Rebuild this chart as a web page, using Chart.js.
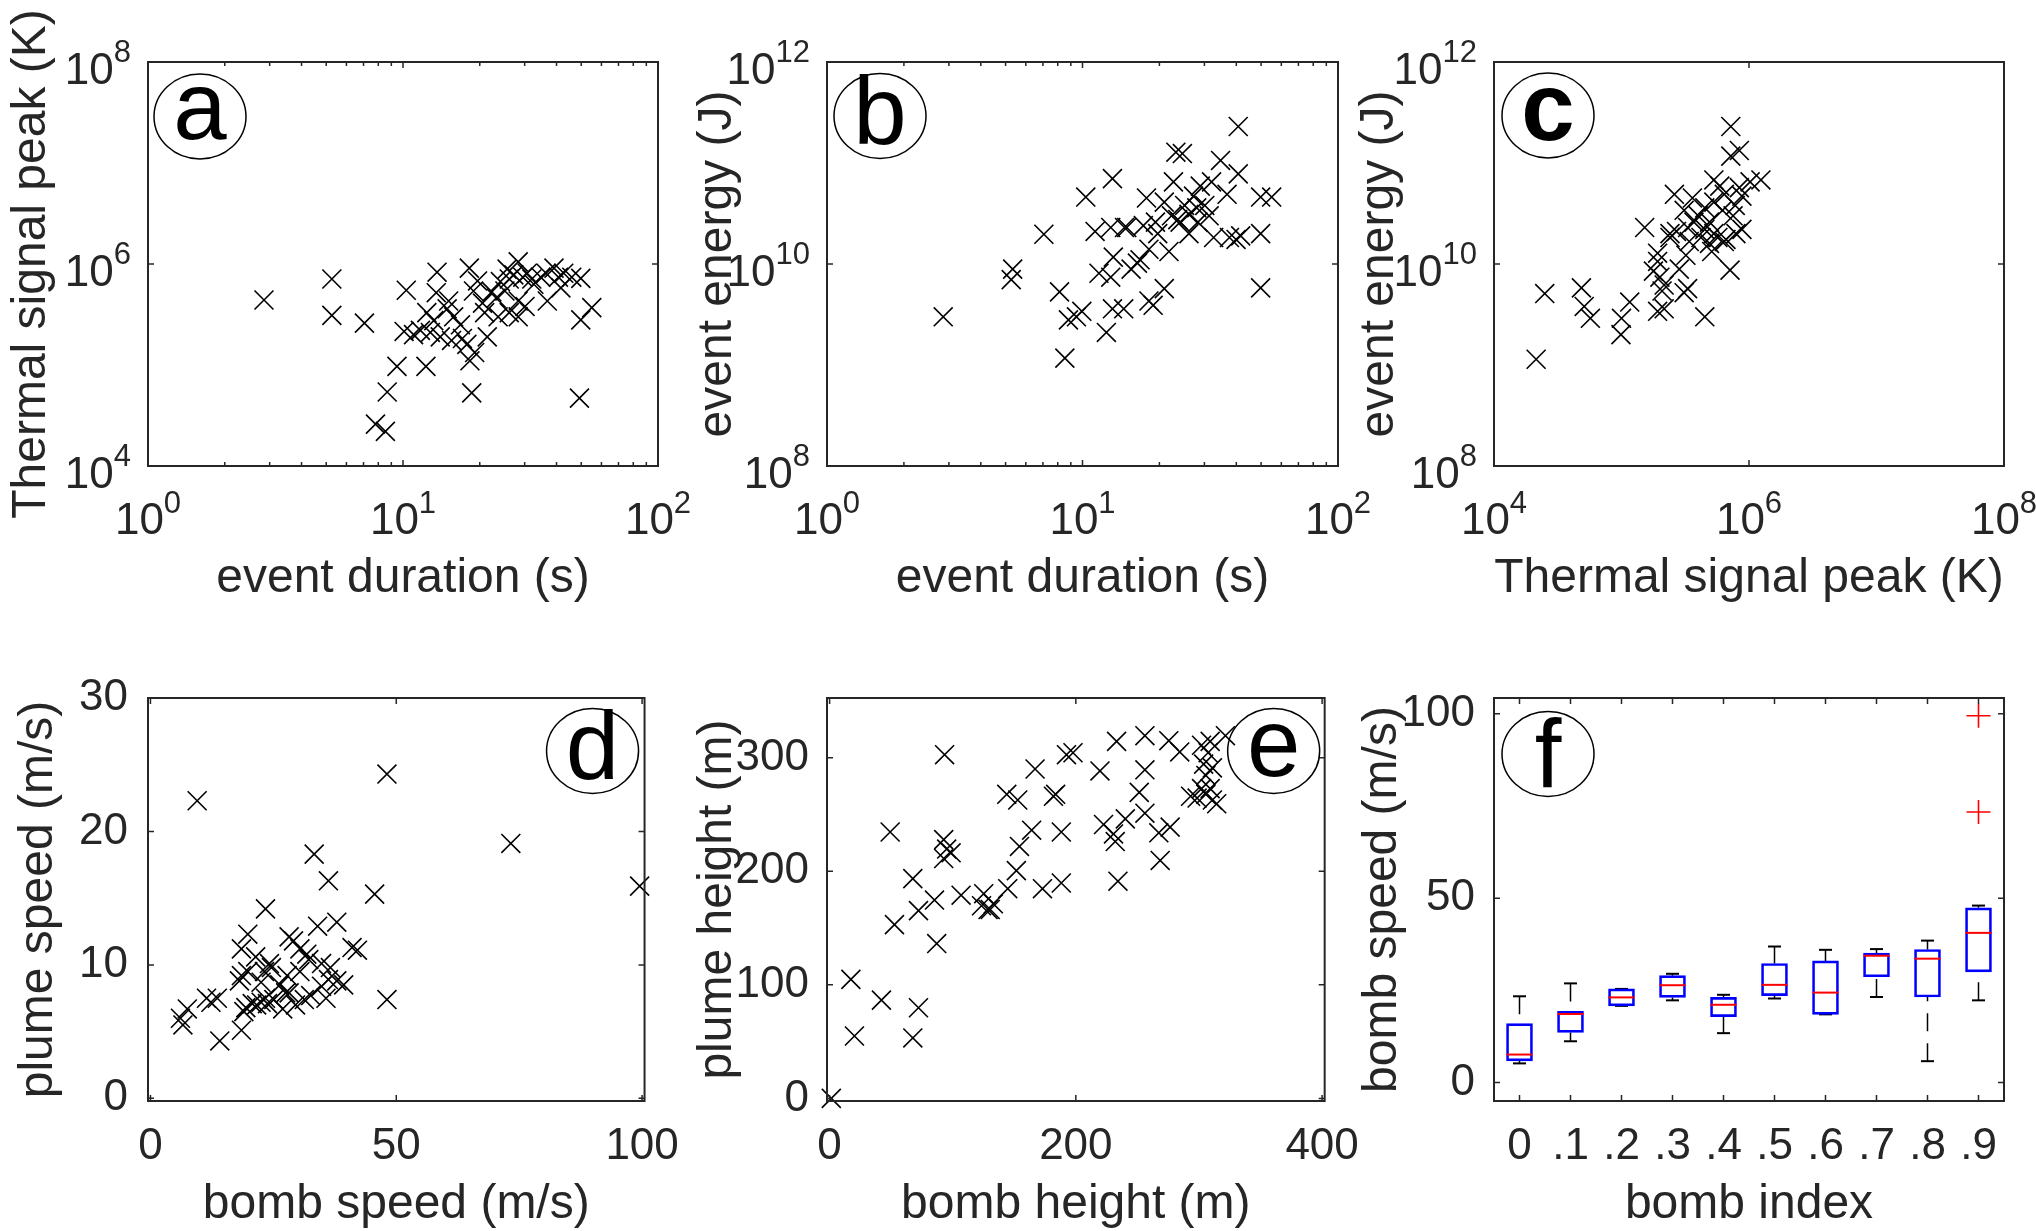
<!DOCTYPE html>
<html>
<head>
<meta charset="utf-8">
<title>Event and bomb statistics</title>
<script src="https://cdn.jsdelivr.net/npm/chart.js@4.4.1/dist/chart.umd.min.js"></script>
<style>
  html, body { margin: 0; padding: 0; background: #fff; }
  #page { position: relative; width: 2036px; height: 1231px; overflow: hidden; background: #fff; }
  .panel { position: absolute; }
</style>
</head>
<body>
<div id="page"></div>
<script>
// values

// (a) event duration (s) vs thermal signal peak (K)
const aDuration = [2.85, 5.26, 5.26, 7.06, 10.3, 10.1, 9.47, 12.3, 8.67, 7.8, 8.53, 18.6, 49.2, 18.3, 55, 49.8, 49.8, 13.6, 13.5, 12.4, 11.7, 11.0, 12.8, 14.0, 15.1, 15.8, 15.5, 17.1, 17.8, 21.4, 18.2, 18.9, 20.5, 22.3, 23.2, 24.1, 25.6, 27.2, 28.3, 30.7, 32.6, 28.3, 26.1, 28.3, 30.1, 34.7, 36.4, 39.1, 40.7, 41.6, 36.8, 42.7, 45.9, 23.6, 20.9, 25.1, 26.1, 29.5, 19.6, 16.8, 14.9, 13.2, 19.1, 32];
const aThermal = [4.4e5, 7.1e5, 3.1e5, 2.6e5, 5.5e5, 2.15e5, 9.7e4, 9.7e4, 5.4e4, 2.6e4, 2.2e4, 5.3e4, 4.7e4, 1.1e5, 3.7e5, 2.8e5, 7.2e5, 8.3e5, 5.2e5, 3.3e5, 2.2e5, 2.0e5, 2.1e5, 1.9e5, 4.3e5, 3.0e5, 1.75e5, 1.83e5, 1.6e5, 1.9e5, 9.1e5, 5.4e5, 4.1e5, 5.3e5, 4.6e5, 6.7e5, 8.9e5, 7.8e5, 1.05e6, 8.1e5, 6.3e5, 4.3e5, 3.3e5, 3.0e5, 3.8e5, 7.4e5, 8.1e5, 9.1e5, 7.4e5, 5.8e5, 4.3e5, 8.1e5, 7.4e5, 3.0e5, 3.3e5, 5.4e5, 7.1e5, 7.4e5, 6.8e5, 2.5e5, 3.6e5, 2.75e5, 1.33e5, 7.1e5];

// (b) event duration (s) vs event energy (J)
const bDuration = [2.85, 5.33, 5.26, 7.06, 10.3, 8.13, 8.53, 8.81, 9.47, 9.94, 12.4, 13.1, 13.2, 12.9, 14.5, 11.6, 11.2, 12.9, 13.1, 14.9, 15.5, 16.4, 16.8, 18.2, 18.9, 20.9, 18.2, 19.7, 21.8, 17.8, 23.2, 24.6, 22.7, 22.3, 23.6, 25.1, 26.1, 27.2, 28.3, 30.1, 31.3, 28.9, 32, 34.7, 36.8, 40.7, 40.7, 32.6, 37.6, 39.9, 41.6, 49.8, 49.8, 55, 49.8, 20.9, 19.3, 26.1, 24.1, 28.0, 14.6, 17.3];
const bEnergy = [3.0e9, 8.9e9, 7.0e9, 1.97e10, 4.6e10, 5.3e9, 1.17e9, 2.8e9, 3.0e9, 3.4e9, 2.1e9, 3.6e9, 1.17e10, 7.4e9, 3.6e9, 8.1e9, 2.1e10, 2.3e10, 7.0e10, 2.3e10, 8.9e9, 1.02e10, 1.1e10, 4.3e9, 3.9e9, 5.7e9, 1.4e10, 2.0e10, 1.33e10, 4.5e10, 1.28e11, 1.24e11, 6.5e10, 3.0e10, 2.75e10, 3.8e10, 3.1e10, 4.7e10, 2.6e10, 3.8e10, 3.0e10, 5.9e10, 6.5e10, 1.06e11, 4.9e10, 2.3e11, 7.8e10, 1.83e10, 1.83e10, 1.75e10, 1.9e10, 2.0e10, 4.6e10, 4.6e10, 5.8e9, 4.1e10, 2.6e10, 2.0e10, 2.6e10, 3.6e10, 2.3e10, 2.4e10];

// (c) thermal signal peak (K) vs event energy (J)
const cThermal = [2.14e4, 2.5e4, 4.85e4, 5.1e4, 5.7e4, 1.0e5, 9.9e4, 1.16e5, 4.5e5, 7.1e5, 7.2e5, 8.4e5, 7.2e5, 1.02e6, 1.24e6, 8.4e5, 5.3e5, 5.9e5, 6.4e5, 8.8e5, 7.8e5, 2.6e5, 3.6e5, 3.1e5, 4.0e5, 4.5e5, 5.3e5, 6.2e5, 4.9e5, 3.7e5, 3.3e5, 2.7e5, 2.4e5, 4.5e5, 5.3e5, 5.7e5, 4.9e5, 6.4e5, 8.8e5, 7.5e5, 1.52e5, 1.92e5, 1.92e5, 1.78e5, 2.0e5, 2.08e5, 1.92e5, 2.16e5, 2.84e5, 3.2e5, 3.3e5, 3.1e5, 5.1e5, 4.2e5, 2.16e5, 2.4e5, 3.4e5, 6.6e5, 7.9e5];
const cEnergy = [1.14e9, 5.1e9, 5.8e9, 3.8e9, 2.9e9, 2.9e9, 2.0e9, 4.2e9, 3.0e9, 8.7e9, 2.3e11, 1.33e11, 1.17e11, 6.5e10, 6.8e10, 5.7e10, 6.8e10, 5.9e10, 4.9e10, 4.7e10, 3.8e10, 4.9e10, 4.5e10, 3.4e10, 3.0e10, 3.6e10, 4.1e10, 3.4e10, 2.6e10, 2.6e10, 2.3e10, 2.1e10, 2.0e10, 2.2e10, 2.0e10, 1.83e10, 1.6e10, 1.67e10, 2.2e10, 3.0e10, 2.3e10, 1.28e10, 1.06e10, 8.5e9, 7.4e9, 5.4e9, 3.4e9, 3.6e9, 8.9e9, 1.22e10, 5.7e9, 5.2e9, 1.33e10, 1.83e10, 6.2e9, 1.83e10, 1.67e10, 1.75e10, 2.0e10];

// (d) bomb speed (m/s) vs plume speed (m/s)
const dBombSpeed = [9.5, 48.1, 73.3, 99.5, 33.3, 36.2, 45.6, 23.4, 48.1, 37.9, 34.0, 28.2, 29.1, 19.8, 18.5, 21.4, 41.0, 42.1, 30.4, 32.2, 34.8, 36.6, 36.2, 37.9, 39.3, 35.7, 34.8, 31.8, 24.2, 23.2, 24.6, 18.5, 19.8, 18.1, 27.8, 30.4, 26.3, 27.5, 23.4, 22.5, 23.8, 21.6, 25.1, 20.7, 19.4, 19.0, 18.5, 31.3, 29.5, 26.9, 13.6, 12.3, 11.4, 14.1, 7.5, 6.1, 6.6, 28.2, 32.6, 22.5];
const dPlumeSpeed = [22.3, 24.3, 19.1, 15.9, 18.3, 16.3, 15.3, 14.2, 7.4, 13.2, 12.9, 12.1, 11.8, 12.3, 11.2, 10.6, 11.3, 11.1, 11.2, 10.4, 10.1, 9.8, 8.9, 8.8, 8.5, 7.5, 8.4, 10.8, 10.1, 9.5, 9.8, 9.2, 9.5, 8.8, 9.2, 9.5, 8.5, 7.9, 7.5, 7.2, 7.1, 7.0, 7.4, 7.1, 6.8, 6.5, 5.1, 7.4, 7.0, 6.7, 7.5, 7.2, 7.5, 4.3, 6.7, 6.0, 5.5, 7.9, 7.7, 8.7];

// (e) bomb height (m) vs plume height (m)
const eBombHeight = [1.4, 17.3, 20.2, 42.1, 49.2, 52.7, 67.6, 67.6, 72.2, 72.2, 85.2, 87.0, 93.4, 92.7, 95.1, 92.7, 98.7, 106.8, 125.2, 123.4, 128.7, 133.0, 130.5, 143.9, 152.8, 144.7, 151.7, 154.2, 164.1, 166.9, 172.9, 181.8, 183.6, 188.2, 188.2, 192.4, 197.7, 219.6, 222.5, 230.6, 232.0, 234.2, 233.1, 240.2, 251.5, 256.1, 256.1, 256.1, 267.4, 268.5, 276.6, 275.5, 284.4, 293.2, 298.5, 302.1, 303.8, 305.6, 307.4, 309.1, 310.9, 305.6, 310.9, 314.4, 321.5, 302.1, 309.1];
const ePlumeHeight = [0, 104.8, 54.9, 86.5, 234.5, 153.0, 193.5, 53.2, 79.8, 165.3, 174.6, 136.3, 302.6, 227.8, 219.5, 211.2, 216.2, 178.9, 180.2, 169.6, 166.3, 171.3, 166.3, 267.7, 262.7, 184.6, 200.5, 221.8, 236.1, 290.0, 184.6, 266.0, 267.7, 234.5, 189.6, 302.6, 304.3, 288.3, 241.1, 232.8, 226.1, 191.2, 314.3, 246.1, 269.4, 319.3, 289.3, 251.1, 233.8, 209.5, 238.8, 314.9, 305.0, 266.0, 264.4, 310.9, 294.3, 284.3, 304.3, 314.3, 291.0, 267.7, 262.7, 259.4, 319.3, 272.7, 272.7];

// (f) bomb speed by bomb index, box plot summary
const fIndex = [0, 1, 2, 3, 4, 5, 6, 7, 8, 9];
const fLabels = ['0', '.1', '.2', '.3', '.4', '.5', '.6', '.7', '.8', '.9'];
const fLower = [5.2, 11.2, 20.8, 22.3, 13.4, 22.8, 18.5, 23.2, 5.8, 22.3];
const fQ1 = [5.9, 13.6, 20.8, 23.1, 17.9, 23.6, 18.5, 28.7, 23.2, 30.0];
const fMedian = [7.6, 18.6, 23.1, 26.4, 21.1, 26.5, 24.4, 34.4, 33.6, 40.6];
const fQ3 = [16.0, 19.3, 25.4, 29.0, 23.1, 32.3, 33.0, 35.1, 36.1, 47.4];
const fUpper = [23.4, 26.9, 25.4, 29.5, 23.8, 36.9, 36.0, 36.2, 38.5, 48.0];
const fOutIndex = [9, 9];
const fOutSpeed = [99.5, 73.4];

// tick values
const durTicks = [1, 10, 100];
const thermTicks = [1e4, 1e6, 1e8];
const energyTicks = [1e8, 1e10, 1e12];
const dXTicks = [0, 50, 100];
const dYTicks = [0, 10, 20, 30];
const eXTicks = [0, 200, 400];
const eYTicks = [0, 100, 200, 300];
const fYTicks = [0, 50, 100];

const INK = '#262626';
const FONT = '"Liberation Sans", Arial, Helvetica, sans-serif';
const LW = 145, RP = 40;
const TICK_PX = 44, SUP_PX = 31, TITLE_PX = 48;

Chart.defaults.font.family = FONT;
Chart.defaults.color = INK;

const page = document.getElementById('page');

// "10" with a raised exponent, like the MATLAB log tick labels
function drawPower(ctx, exp, x, y, axis) {
  const base = '10', sup = String(exp);
  ctx.fillStyle = INK;
  ctx.textAlign = 'left';
  ctx.textBaseline = 'alphabetic';
  ctx.font = TICK_PX + 'px ' + FONT;
  const wb = ctx.measureText(base).width;
  ctx.font = SUP_PX + 'px ' + FONT;
  const ws = ctx.measureText(sup).width;
  let x0, yb, ye;
  if (axis === 'x') {
    x0 = x - (wb + ws) / 2; yb = y + 68; ye = y + 47;
  } else {
    x0 = x - 17 - wb - ws; yb = y + 22; ye = y;
  }
  ctx.font = TICK_PX + 'px ' + FONT;
  ctx.fillText(base, x0, yb);
  ctx.font = SUP_PX + 'px ' + FONT;
  ctx.fillText(sup, x0 + wb, ye);
}

// box around the axes, inward ticks on all sides, log labels, panel letter
const framePlugin = {
  id: 'frame',
  afterDraw(chart, args, opts) {
    const ctx = chart.ctx;
    const a = chart.chartArea;
    const xs = chart.scales.x, ys = chart.scales.y;
    ctx.save();
    ctx.strokeStyle = INK;
    ctx.lineWidth = 1.5;
    ctx.beginPath();
    const tickX = (v, len) => {
      const p = xs.getPixelForValue(v);
      ctx.moveTo(p, a.bottom); ctx.lineTo(p, a.bottom - len);
      ctx.moveTo(p, a.top); ctx.lineTo(p, a.top + len);
    };
    const tickY = (v, len) => {
      const p = ys.getPixelForValue(v);
      ctx.moveTo(a.left, p); ctx.lineTo(a.left + len, p);
      ctx.moveTo(a.right, p); ctx.lineTo(a.right - len, p);
    };
    xs.ticks.forEach(t => tickX(t.value, 6));
    ys.ticks.forEach(t => tickY(t.value, 6));
    if (opts.minorX) {
      for (let d = xs.min; d < xs.max; d *= 10) {
        for (let m = 2; m < 10; m++) tickX(m * d, 4);
      }
    }
    ctx.stroke();
    ctx.lineWidth = 2;
    ctx.strokeRect(a.left, a.top, a.right - a.left, a.bottom - a.top);

    if (opts.logX) xs.ticks.forEach(t => drawPower(ctx, Math.round(Math.log10(t.value)), xs.getPixelForValue(t.value), a.bottom, 'x'));
    if (opts.logY) ys.ticks.forEach(t => drawPower(ctx, Math.round(Math.log10(t.value)), a.left, ys.getPixelForValue(t.value), 'y'));

    const cx = opts.right ? a.right - opts.dx : a.left + opts.dx;
    const cy = a.top + opts.dy;
    ctx.strokeStyle = '#000';
    ctx.lineWidth = 1.5;
    ctx.beginPath();
    ctx.ellipse(cx, cy, 46, 42.5, 0, 0, Math.PI * 2);
    ctx.stroke();
    ctx.fillStyle = '#000';
    ctx.font = (opts.bold ? 'bold ' : '') + '96px ' + FONT;
    ctx.textAlign = 'center';
    ctx.textBaseline = 'alphabetic';
    ctx.fillText(opts.letter, cx, cy + opts.base);
    ctx.restore();
  }
};

function xAxis(o) {
  const ax = {
    type: o.type, min: o.min, max: o.max, position: 'bottom', offset: false,
    afterBuildTicks: s => { s.ticks = o.ticks.map(v => ({ value: v })); },
    afterFit: s => { s.height = o.bh; },
    grid: { display: false, drawTicks: false },
    border: { display: false },
    ticks: { display: !o.log, font: { size: TICK_PX }, color: INK, padding: 19, maxRotation: 0, autoSkip: false },
    title: { display: true, text: o.title, color: INK, font: { size: TITLE_PX, lineHeight: 1.2 }, padding: { top: 0, bottom: o.tpad } }
  };
  if (o.labels) ax.ticks.callback = v => o.labels[o.ticks.indexOf(v)];
  return ax;
}

function yAxis(o) {
  return {
    type: o.type, min: o.min, max: o.max, position: 'left',
    afterBuildTicks: s => { s.ticks = o.ticks.map(v => ({ value: v })); },
    afterFit: s => { s.width = LW; },
    grid: { display: false, drawTicks: false },
    border: { display: false },
    ticks: { display: !o.log, font: { size: TICK_PX }, color: INK, padding: o.pad || 19 },
    title: { display: true, text: o.title, color: INK, font: { size: TITLE_PX, lineHeight: 1.2 }, padding: { top: o.tpad, bottom: 0 } }
  };
}

function crosses(xs, ys) {
  return {
    type: 'scatter',
    data: xs.map((x, i) => ({ x, y: ys[i] })),
    pointStyle: 'crossRot',
    pointRadius: 13.4,
    pointHoverRadius: 13.4,
    borderColor: '#000',
    backgroundColor: '#000',
    borderWidth: 1.6,
    clip: false
  };
}

function makeChart(box, cfg) {
  const w = LW + box.w + RP, h = box.tp + box.h + box.bh;
  const holder = document.createElement('div');
  holder.className = 'panel';
  holder.style.left = (box.left - LW) + 'px';
  holder.style.top = (box.top - box.tp) + 'px';
  holder.style.width = w + 'px';
  holder.style.height = h + 'px';
  const cv = document.createElement('canvas');
  cv.width = w; cv.height = h;
  cv.style.width = w + 'px'; cv.style.height = h + 'px';
  holder.appendChild(cv);
  page.appendChild(holder);
  cfg.options.responsive = false;
  cfg.options.animation = false;
  cfg.options.devicePixelRatio = 1;
  cfg.options.layout = { padding: { top: box.tp, right: RP, left: 0, bottom: 0 } };
  cfg.options.plugins.legend = { display: false };
  cfg.options.plugins.tooltip = { enabled: false };
  cfg.plugins = [framePlugin];
  return new Chart(cv, cfg);
}

// panel boxes (plot areas) in page pixels
const A = { left: 148, top: 62, w: 510, h: 404, tp: 62, bh: 150 };
const B = { left: 827, top: 62, w: 511, h: 404, tp: 62, bh: 150 };
const C = { left: 1494, top: 62, w: 510, h: 404, tp: 62, bh: 150 };
const D = { left: 148, top: 698, w: 510, h: 403, tp: 60, bh: 133 };
const E = { left: 827, top: 698, w: 511, h: 403, tp: 60, bh: 133 };
const F = { left: 1494, top: 698, w: 510, h: 403, tp: 60, bh: 133 };

makeChart(A, {
  type: 'scatter',
  data: { datasets: [crosses(aDuration, aThermal)] },
  options: {
    scales: {
      x: xAxis({ type: 'logarithmic', min: 1, max: 100, ticks: durTicks, log: true, title: 'event duration (s)', bh: A.bh, tpad: 8 }),
      y: yAxis({ type: 'logarithmic', min: 1e4, max: 1e8, ticks: thermTicks, log: true, title: 'Thermal signal peak (K)', tpad: 0 })
    },
    plugins: { frame: { letter: 'a', dx: 52, dy: 54.5, base: 22, minorX: true, logX: true, logY: true } }
  }
});

makeChart(B, {
  type: 'scatter',
  data: { datasets: [crosses(bDuration, bEnergy)] },
  options: {
    scales: {
      x: xAxis({ type: 'logarithmic', min: 1, max: 100, ticks: durTicks, log: true, title: 'event duration (s)', bh: B.bh, tpad: 8 }),
      y: yAxis({ type: 'logarithmic', min: 1e8, max: 1e12, ticks: energyTicks, log: true, title: 'event energy (J)', tpad: 7 })
    },
    plugins: { frame: { letter: 'b', dx: 53, dy: 54, base: 28, minorX: true, logX: true, logY: true } }
  }
});

makeChart(C, {
  type: 'scatter',
  data: { datasets: [crosses(cThermal, cEnergy)] },
  options: {
    scales: {
      x: xAxis({ type: 'logarithmic', min: 1e4, max: 1e8, ticks: thermTicks, log: true, title: 'Thermal signal peak (K)', bh: C.bh, tpad: 8 }),
      y: yAxis({ type: 'logarithmic', min: 1e8, max: 1e12, ticks: energyTicks, log: true, title: 'event energy (J)', tpad: 2 })
    },
    plugins: { frame: { letter: 'c', bold: true, dx: 54, dy: 53.5, base: 24, logX: true, logY: true } }
  }
});

makeChart(D, {
  type: 'scatter',
  data: { datasets: [crosses(dBombSpeed, dPlumeSpeed)] },
  options: {
    scales: {
      x: xAxis({ type: 'linear', min: -0.5, max: 100.5, ticks: dXTicks, title: 'bomb speed (m/s)', bh: D.bh, tpad: 0 }),
      y: yAxis({ type: 'linear', min: -0.2, max: 30, ticks: dYTicks, title: 'plume speed (m/s)', tpad: 7, pad: 20 })
    },
    plugins: { frame: { letter: 'd', right: true, dx: 52, dy: 53, base: 28 } }
  }
});

makeChart(E, {
  type: 'scatter',
  data: { datasets: [crosses(eBombHeight, ePlumeHeight)] },
  options: {
    scales: {
      x: xAxis({ type: 'linear', min: -2.1, max: 402.1, ticks: eXTicks, title: 'bomb height (m)', bh: E.bh, tpad: 0 }),
      y: yAxis({ type: 'linear', min: -2.3, max: 352.5, ticks: eYTicks, title: 'plume height (m)', tpad: 7, pad: 18 })
    },
    plugins: { frame: { letter: 'e', right: true, dx: 51, dy: 53, base: 25 } }
  }
});

// box plot pieces for (f)
const fStems = [];
fIndex.forEach((x, i) => {
  fStems.push({ x, y: fUpper[i] }, { x, y: fQ3[i] }, { x, y: null });
  fStems.push({ x, y: fLower[i] }, { x, y: fQ1[i] }, { x, y: null });
});
const fCaps = fIndex.map((x, i) => ({ x, y: fUpper[i] }))
  .concat(fIndex.map((x, i) => ({ x, y: fLower[i] })));

makeChart(F, {
  type: 'bar',
  data: {
    datasets: [
      { type: 'line', data: fStems, borderColor: '#000', borderWidth: 1.5, borderDash: [18, 12], pointRadius: 0, spanGaps: false, order: 4 },
      { type: 'scatter', data: fCaps, pointStyle: 'line', pointRadius: 6.5, borderColor: '#000', borderWidth: 2, order: 3 },
      { type: 'bar', data: fIndex.map((x, i) => ({ x, y: [fQ1[i], fQ3[i]] })), backgroundColor: 'rgba(0,0,0,0)', borderColor: '#0000ff', borderWidth: 2, borderSkipped: false, barThickness: 26, order: 2 },
      { type: 'scatter', data: fIndex.map((x, i) => ({ x, y: fMedian[i] })), pointStyle: 'line', pointRadius: 13, borderColor: '#ff0000', borderWidth: 2, order: 1 },
      { type: 'scatter', data: fOutIndex.map((x, i) => ({ x, y: fOutSpeed[i] })), pointStyle: 'cross', pointRadius: 12, borderColor: '#ff0000', borderWidth: 1.6, clip: false, order: 0 }
    ]
  },
  options: {
    scales: {
      x: xAxis({ type: 'linear', min: -0.5, max: 9.5, ticks: fIndex, labels: fLabels, title: 'bomb index', bh: F.bh, tpad: 0 }),
      y: yAxis({ type: 'linear', min: -5, max: 104.3, ticks: fYTicks, title: 'bomb speed (m/s)', tpad: 5, pad: 19 })
    },
    plugins: { frame: { letter: 'f', dx: 54, dy: 56, base: 33 } }
  }
});
</script>
</body>
</html>
